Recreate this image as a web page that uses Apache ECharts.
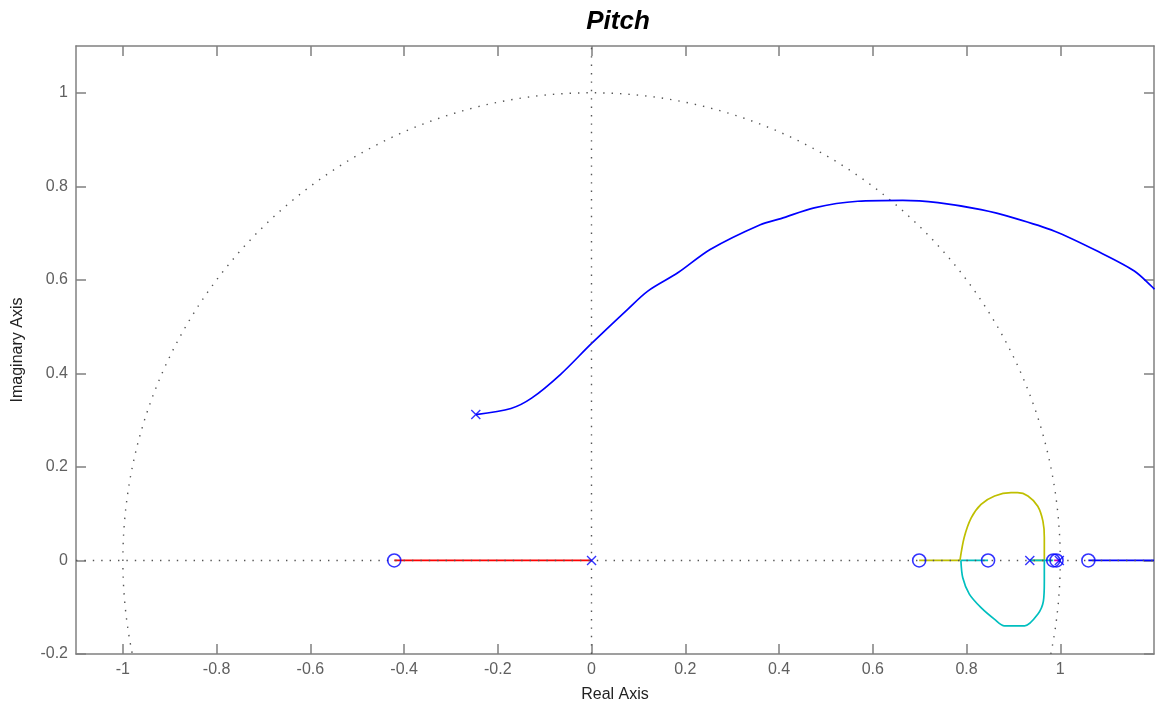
<!DOCTYPE html>
<html>
<head>
<meta charset="utf-8">
<script src="https://cdn.jsdelivr.net/npm/echarts@6/dist/echarts.min.js"></script>
<style>
html,body{margin:0;padding:0;background:#fff;}
#chart{width:1155px;height:711px;}
</style>
</head>
<body>
<div id="chart"></div>
<script>
// ---- tick labels ----
const xTicks = [-1, -0.8, -0.6, -0.4, -0.2, 0, 0.2, 0.4, 0.6, 0.8, 1];
const yTicks = [-0.2, 0, 0.2, 0.4, 0.6, 0.8, 1];

// ---- root locus branches ----
const blueBranch = [[-0.247,0.312],[-0.172,0.325],[-0.128,0.347],[-0.066,0.398],[-0.001,0.463],[0.077,0.537],[0.120,0.576],[0.184,0.615],[0.253,0.665],[0.360,0.718],[0.404,0.731],[0.475,0.754],[0.568,0.768],[0.664,0.770],[0.739,0.765],[0.831,0.750],[0.902,0.732],[0.988,0.704],[1.080,0.661],[1.158,0.619],[1.201,0.580]];
const blueReal = [[1.060,0],[1.2,0]];
const redReal = [[-0.421,0],[0,0]];
const yellowReal = [[0.699,0],[0.786,0]];
const yellowLoop = [[0.786,0],[0.795,0.049],[0.810,0.091],[0.831,0.120],[0.860,0.138],[0.895,0.145],[0.909,0.145],[0.931,0.138],[0.952,0.116],[0.963,0.084],[0.966,0.049],[0.966,0]];
const yellowReal2 = [[0.966,0],[0.935,0]];
const cyanReal = [[0.846,0],[0.788,0]];
const cyanLoop = [[0.788,0],[0.792,-0.037],[0.806,-0.072],[0.831,-0.101],[0.860,-0.126],[0.881,-0.140],[0.924,-0.140],[0.952,-0.115],[0.964,-0.087],[0.966,-0.044],[0.966,0]];
const cyanReal2 = [[0.935,0],[0.985,0]];
const magentaReal = [[0.987,0],[0.998,0]];

// ---- poles (x) and zeros (o) ----
const poles = [[-0.247,0.312],[0,0],[0.935,0],[0.998,0]];
const zeros = [[-0.421,0],[0.699,0],[0.846,0],[0.985,0],[0.992,0],[1.060,0]];

// ---- unit circle guide (grid geometry) ----
const unitCircle = [];
for (let a = 0; a <= 360; a += 1) {
  const r = a * Math.PI / 180;
  unitCircle.push([Math.cos(r), Math.sin(r)]);
}

const AX = '#808080';
const FONT = 'Liberation Sans, Arial, sans-serif';
const dotStyle = {color:'#555', width:1.4, type:[1.4,7], cap:'butt'};

function lineSeries(data, color, smooth) {
  return {type:'line', data:data, showSymbol:false, symbol:'none', clip:true,
    smooth: smooth || false,
    lineStyle:{color:color, width:1.7}, silent:true, animation:false, z:3};
}

const chart = echarts.init(document.getElementById('chart'));
chart.setOption({
  backgroundColor:'#fff',
  animation:false,
  title:{text:'Pitch', left:613, top:4, textAlign:'center',
    textStyle:{fontFamily:FONT, fontSize:26, fontWeight:'bold', fontStyle:'italic', color:'#000'}},
  grid:{left:76, right:1, top:46, bottom:57, containLabel:false, outerBoundsMode:'none'},
  xAxis:[
    {type:'value', min:-1.1, max:1.2, position:'bottom',
      axisLine:{show:true, onZero:false, lineStyle:{color:AX, width:1.5}},
      axisTick:{show:true, inside:true, length:10, customValues:xTicks, lineStyle:{color:AX, width:1.5}},
      axisLabel:{customValues:xTicks, color:'#606060', fontSize:16, margin:8, fontFamily:FONT},
      splitLine:{show:false},
      name:'Real Axis', nameLocation:'middle', nameGap:33,
      nameTextStyle:{color:'#222', fontSize:16, fontFamily:FONT}},
    {type:'value', min:-1.1, max:1.2, position:'top',
      axisLine:{show:true, onZero:false, lineStyle:{color:AX, width:1.5}},
      axisTick:{show:true, inside:true, length:10, customValues:xTicks, lineStyle:{color:AX, width:1.5}},
      axisLabel:{show:false}, splitLine:{show:false}}
  ],
  yAxis:[
    {type:'value', min:-0.2, max:1.1, position:'left',
      axisLine:{show:true, onZero:false, lineStyle:{color:AX, width:1.5}},
      axisTick:{show:true, inside:true, length:10, customValues:yTicks, lineStyle:{color:AX, width:1.5}},
      axisLabel:{customValues:yTicks, color:'#606060', fontSize:16, margin:8, fontFamily:FONT},
      splitLine:{show:false},
      name:'Imaginary Axis', nameLocation:'middle', nameGap:50,
      nameTextStyle:{color:'#222', fontSize:16, fontFamily:FONT}},
    {type:'value', min:-0.2, max:1.1, position:'right',
      axisLine:{show:true, onZero:false, lineStyle:{color:AX, width:1.5}},
      axisTick:{show:true, inside:true, length:10, customValues:yTicks, lineStyle:{color:AX, width:1.5}},
      axisLabel:{show:false}, splitLine:{show:false}}
  ],
  series:[
    {type:'line', data:unitCircle, showSymbol:false, symbol:'none', clip:true, silent:true,
      lineStyle:dotStyle, z:1,
      markLine:{silent:true, symbol:'none', label:{show:false}, animation:false,
        lineStyle:dotStyle, emphasis:{disabled:true},
        data:[{xAxis:0},{yAxis:0}]}},
    lineSeries(redReal, '#ff0000'),
    lineSeries(yellowReal, '#bfbf00'),
    lineSeries(yellowLoop, '#bfbf00', 0.3),
    lineSeries(yellowReal2, '#bfbf00'),
    lineSeries(cyanReal, '#00bfbf'),
    lineSeries(cyanLoop, '#00bfbf', 0.3),
    lineSeries(cyanReal2, '#00bfbf'),
    lineSeries(magentaReal, '#bf00bf'),
    lineSeries(blueReal, '#0000ff'),
    lineSeries(blueBranch, '#0000ff', 0.3),
    {type:'scatter', data:zeros, symbol:'circle', symbolSize:13, silent:true, z:5,
      itemStyle:{color:'transparent', borderColor:'#0000ff', borderWidth:1.6}},
    {type:'scatter', data:poles, symbol:'path://M0,0L10,10M10,0L0,10', symbolSize:9, silent:true, z:5,
      itemStyle:{color:'transparent', borderColor:'#0000ff', borderWidth:1.4}}
  ]
});
</script>
</body>
</html>
